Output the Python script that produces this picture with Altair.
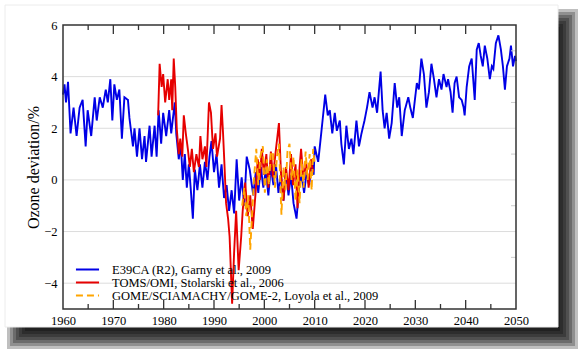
import altair as alt
import pandas as pd

# ---------------- data ----------------
labels = ["E39CA (R2), Garny et al., 2009",
          "TOMS/OMI, Stolarski et al., 2006",
          "GOME/SCIAMACHY/GOME-2, Loyola et al., 2009"]
colors = ["#0000e6", "#e60000", "#ffa500"]
dashes = [[1, 0], [1, 0], [7, 4]]

blue_years = [1960.0, 1960.3, 1960.6, 1961.0, 1961.5, 1962.1, 1962.7, 1963.3, 1963.9, 1964.5,
              1964.9, 1965.6, 1966.3, 1966.7, 1967.3, 1967.9, 1968.5, 1968.9, 1969.4, 1969.8,
              1970.2, 1970.7, 1971.2, 1971.7, 1972.2, 1972.9, 1973.2, 1973.9, 1974.2, 1974.7,
              1975.2, 1975.7, 1976.2, 1976.5, 1977.2, 1977.6, 1978.2, 1978.6, 1979.0, 1979.5,
              1979.9, 1980.5, 1981.1, 1981.5, 1982.2, 1982.5, 1983.0, 1983.4, 1983.8, 1984.2,
              1984.6, 1985.0, 1985.4, 1985.8, 1986.2, 1986.7, 1987.2, 1987.7, 1988.2, 1988.7,
              1989.1, 1989.5, 1990.0, 1990.5, 1991.0, 1991.5, 1992.0, 1992.5, 1993.0, 1993.5,
              1994.0, 1994.5, 1995.0, 1995.5, 1996.0, 1996.5, 1997.1, 1997.8, 1998.3, 1998.8,
              1999.3, 1999.8, 2000.3, 2000.8, 2001.3, 2001.8, 2002.3, 2002.8, 2003.3, 2003.8,
              2004.3, 2004.8, 2005.3, 2005.8, 2006.4, 2006.9, 2007.4, 2007.9, 2008.4, 2008.9,
              2009.4, 2009.8, 2010.0, 2010.7, 2011.3, 2012.1, 2012.6, 2013.0, 2013.5, 2014.0,
              2014.4, 2015.0, 2015.3, 2015.8, 2016.3, 2016.8, 2017.3, 2017.7, 2018.3, 2018.8,
              2019.3, 2019.9, 2020.4, 2020.9, 2021.5, 2021.9, 2022.4, 2023.1, 2023.5, 2023.9,
              2024.3, 2024.8, 2025.3, 2025.9, 2026.4, 2026.8, 2027.3, 2027.9, 2028.6, 2029.0,
              2029.5, 2030.3, 2030.7, 2031.2, 2031.7, 2032.2, 2032.7, 2033.2, 2033.7, 2034.2,
              2034.7, 2035.2, 2035.6, 2036.2, 2036.5, 2037.0, 2037.4, 2037.8, 2038.2, 2038.7,
              2039.2, 2039.6, 2039.8, 2040.2, 2040.7, 2041.2, 2041.5, 2041.8, 2042.2, 2042.6,
              2043.0, 2043.4, 2043.8, 2044.3, 2044.8, 2045.2, 2045.5, 2046.0, 2046.5, 2047.0,
              2047.4, 2047.8, 2048.2, 2048.7, 2049.0, 2049.4, 2049.8, 2050.0]
blue_vals = [3.3, 3.7, 3.0, 3.8, 1.8, 2.8, 1.7, 2.8, 3.1, 1.3,
             2.7, 1.7, 3.2, 2.3, 3.2, 2.8, 3.5, 3.0, 3.9, 2.3,
             3.7, 3.1, 3.5, 1.6, 3.2, 3.1, 2.4, 1.3, 2.0, 0.9,
             2.0, 0.8, 1.7, 0.7, 2.1, 0.9, 2.1, 0.9, 2.7, 1.4,
             2.6, 1.7, 2.7, 1.8, 3.0, 1.8, 0.8, 1.4, 0.0, 1.0,
             -0.3, 0.6, -0.4, -1.5, 0.4, -0.4, 0.6, -0.3, 0.7, 0.0,
             0.9, 1.5, 0.3, 1.0, -0.3, 0.6, -0.7, -0.2, -1.2, -0.4,
             -1.3, 0.8, -0.8, 0.1, -1.0, 0.9, 0.4, -0.6, 0.3, -0.5,
             0.5, -0.3, 0.4, -0.6, 0.5, -0.2, 0.6, -0.5, 0.2, -0.8,
             0.3, -0.6, 0.2, -0.9, -1.5, -0.3, 0.2, -0.5, 0.3, -0.2,
             0.6, 0.2, 1.3, 0.7, 1.8, 3.3, 2.5, 2.7, 1.8, 2.6,
             1.9, 2.3, 1.4, 0.6, 2.1, 1.2, 1.6, 1.0, 2.3, 1.3,
             1.8, 2.3, 2.8, 3.4, 2.8, 3.2, 2.6, 4.2, 2.7, 2.0,
             2.6, 1.6, 2.2, 3.75, 2.8, 3.2, 1.7, 2.7, 3.2, 2.8,
             2.4, 3.75, 3.5, 4.7, 4.1, 2.8, 3.4, 4.5, 3.9, 3.2,
             3.9, 3.5, 4.1, 3.6, 3.9, 3.4, 2.6, 3.75, 4.0, 3.2,
             3.1, 2.8, 2.5, 3.6, 4.4, 4.7, 3.9, 3.1, 5.05, 5.3,
             4.8, 4.4, 5.2, 4.7, 3.9, 4.4, 4.3, 5.3, 5.6, 5.05,
             4.4, 3.5, 4.4, 4.7, 5.2, 4.4, 4.8, 4.6]

red_years = [1978.9, 1979.2, 1979.6, 1979.9, 1980.3, 1980.8, 1981.1, 1981.5, 1981.7, 1982.0,
             1982.3, 1982.6, 1983.0, 1983.3, 1983.7, 1984.0, 1984.4, 1984.8, 1985.2, 1985.6,
             1986.0, 1986.5, 1987.0, 1987.3, 1987.7, 1988.2, 1988.5, 1989.0, 1989.4, 1989.8,
             1990.3, 1990.6, 1991.2, 1991.5, 1991.8, 1992.1, 1992.4, 1992.8, 1993.1, 1993.6,
             1994.0, 1994.4, 1994.9, 1995.4, 1995.7, 1996.2, 1996.7, 1997.2, 1997.7, 1998.3,
             1998.7, 1999.1, 1999.5, 1999.9, 2000.4, 2000.8, 2001.3, 2001.7, 2002.2, 2002.9,
             2003.3, 2003.8, 2004.3, 2004.8, 2005.3, 2005.7, 2006.2, 2006.6, 2007.0, 2007.3,
             2007.8, 2008.3, 2008.8, 2009.3, 2009.7]
red_vals = [2.5, 4.5, 3.6, 4.1, 3.0, 3.9, 3.1, 3.9, 2.7, 4.7,
            3.6, 2.0, 1.0, 1.6, 0.9, 2.5, 1.8, 1.2, 0.5, 1.2,
            0.3, 1.0, 0.5, 1.7, 0.8, 1.3, 0.5, 3.0, 2.6, 1.2,
            1.8, 0.9, 1.6, 2.9, 1.8, 0.5, -0.9, -1.5, -2.2, -4.8,
            -2.8, -1.2, -3.5, -2.2, -1.2, -0.1, -1.4, -0.6, -1.9, -0.4,
            0.8, 0.0, 1.2, 0.2, 1.0, -0.3, 1.1, 0.1, 1.0, 2.2,
            0.3, -0.8, 0.5, -0.4, 1.0, -0.2, 0.6, -1.1, 0.5, 1.2,
            0.0, 0.7, -0.3, 0.8, 0.3]

orange_years = [1995.6, 1996.0, 1996.4, 1996.8, 1997.2, 1997.6, 1998.0, 1998.4, 1998.8, 1999.2,
                1999.7, 2000.1, 2000.5, 2000.9, 2001.3, 2001.7, 2002.1, 2002.5, 2002.9, 2003.4,
                2003.8, 2004.2, 2004.6, 2005.0, 2005.4, 2005.8, 2006.2, 2006.6, 2007.0, 2007.4,
                2007.8, 2008.2, 2008.6, 2009.0, 2009.4, 2009.7, 2010.0]
orange_vals = [-1.0, -0.3, -1.4, -0.6, -2.7, -1.2, 0.2, 1.2, -0.2, 0.9,
               1.3, -0.5, 0.8, -0.2, 1.0, 1.1, -0.3, 0.9, 1.4, -1.35,
               0.5, -0.4, 1.1, 1.4, 0.0, 0.9, -0.8, 0.4, -0.9, 0.8,
               -0.3, 1.1, 0.0, 1.0, -0.4, 1.2, 0.6]

x_ticks = [1960, 1970, 1980, 1990, 2000, 2010, 2020, 2030, 2040, 2050]
x_minor = [1965, 1975, 1985, 1995, 2005, 2015, 2025, 2035, 2045]
y_ticks = [-4, -2, 0, 2, 4, 6]
y_grid = [-4, -2, 0, 2, 4]
y_minor = [-3, -1, 1, 3, 5]

# ---------------- chart ----------------
W, H = 453, 284
SERIF = "Liberation Serif"

xscale = alt.Scale(domain=[1960, 2050], nice=False, zero=False)
yscale = alt.Scale(domain=[-5, 6], nice=False, zero=False)
xaxis = alt.Axis(values=x_ticks, format="d", title=None, grid=False, ticks=False,
                 domain=False, labelPadding=5, zindex=1, labelFlush=False,
                 labelFont=SERIF, labelFontSize=12.5, labelColor="black")
yaxis = alt.Axis(values=y_ticks, format="d", title="Ozone deviation/%", grid=False,
                 ticks=False, domain=False, labelPadding=6, titlePadding=2, zindex=1,
                 labelFlush=False, labelFont=SERIF, labelFontSize=12.5, labelColor="black",
                 titleFont=SERIF, titleFontSize=16, titleFontWeight="normal",
                 titleColor="black")
X = alt.X("year:Q", scale=xscale, axis=xaxis)
Y = alt.Y("value:Q", scale=yscale, axis=yaxis)

# legend: short-row symbol (size 121 -> 11px row) drawn as a long stroke via custom path
legend = alt.Legend(orient="none", legendX=18, legendY=238, title=None, padding=0,
                    rowPadding=0, labelFont=SERIF, labelFontSize=12.5, labelColor="black",
                    labelLimit=400, symbolType="M-2.1,0H2.1", symbolStrokeWidth=2,
                    symbolSize=121, labelOffset=18, symbolFillColor="transparent")
color = alt.Color("series:N", scale=alt.Scale(domain=labels, range=colors), legend=legend)
dash = alt.StrokeDash("series:N", scale=alt.Scale(domain=labels, range=dashes), legend=legend)

one = pd.DataFrame({"k": [0]})
layers = []

# drop shadow + white card (decoration)
cx0, cx1, cy0, cy1 = -58, 495, -20, 302
for e in [10, 7, 4, 1, -2, -5, -8]:
    layers.append(alt.Chart(one).mark_rect(color="black", opacity=0.25).encode(
        x=alt.value(cx0 + 12 - e), x2=alt.value(cx1 + 10 + e),
        y=alt.value(cy0 + 14 - e), y2=alt.value(cy1 + 12 + e)))
layers.append(alt.Chart(one).mark_rect(color="white", stroke="#ececec", strokeWidth=1).encode(
    x=alt.value(cx0), x2=alt.value(cx1), y=alt.value(cy0), y2=alt.value(cy1)))

# grid lines
layers.append(alt.Chart(pd.DataFrame({"value": y_grid})).mark_rule(
    color="#dcdcdc", strokeWidth=1).encode(y=Y, x=alt.value(0), x2=alt.value(W)))

# series
for lab, yrs, vals in [(labels[0], blue_years, blue_vals),
                       (labels[1], red_years, red_vals),
                       (labels[2], orange_years, orange_vals)]:
    d = pd.DataFrame({"year": yrs, "value": vals, "series": lab})
    layers.append(alt.Chart(d).mark_line(strokeWidth=1.9).encode(
        x=X, y=Y, color=color, strokeDash=dash))

# inward ticks top and bottom
maj = pd.DataFrame({"year": x_ticks[1:-1]})
mnr = pd.DataFrame({"year": x_minor})
for data, ln in [(maj, 9), (mnr, 5)]:
    layers.append(alt.Chart(data).mark_rule(color="#333333", strokeWidth=1.3).encode(
        x=X, y=alt.value(H), y2=alt.value(H - ln)))
    layers.append(alt.Chart(data).mark_rule(color="#333333", strokeWidth=1.3).encode(
        x=X, y=alt.value(0), y2=alt.value(ln)))
# right minor ticks
layers.append(alt.Chart(pd.DataFrame({"value": y_minor})).mark_rule(
    color="#cccccc", strokeWidth=1).encode(y=Y, x=alt.value(W - 5), x2=alt.value(W)))

# frame
layers.append(alt.Chart(one).mark_rect(fillOpacity=0, stroke="#333333", strokeWidth=1.5).encode(
    x=alt.value(0), x2=alt.value(W), y=alt.value(0), y2=alt.value(H)))

chart = alt.layer(*layers).properties(
    width=W, height=H,
    autosize=alt.AutoSizeParams(type="none"),
    padding={"left": 63, "top": 25, "right": 67, "bottom": 45},
    background="white",
).configure(font=SERIF).configure_view(strokeWidth=0)

chart.save("out.html", embed_options={"renderer": "svg", "actions": False})
